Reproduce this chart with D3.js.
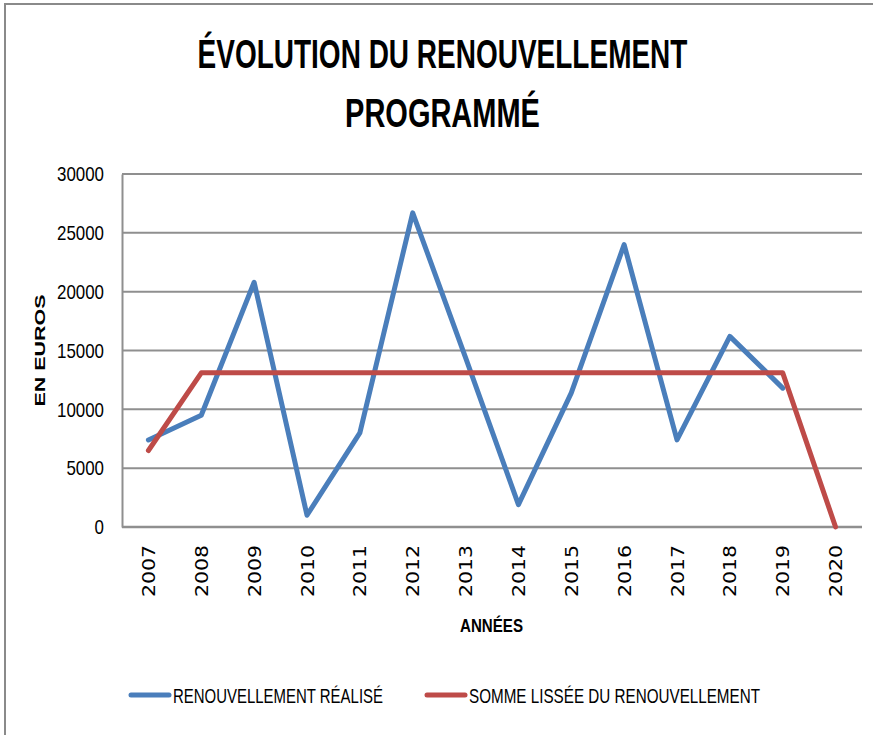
<!DOCTYPE html>
<html lang="fr">
<head>
<meta charset="utf-8">
<script src="https://cdn.jsdelivr.net/npm/d3@7"></script>
<style>
  html, body { margin: 0; padding: 0; background: #fff; }
  svg { display: block; }
</style>
</head>
<body>
<svg id="chart" width="873" height="735"></svg>
<script>
// Années et séries
const years = ["2007","2008","2009","2010","2011","2012","2013","2014","2015","2016","2017","2018","2019","2020"];
const realise = [7400, 9500, 20800, 1000, 8000, 26700, 14400, 1900, 11400, 24000, 7400, 16200, 11800];
const lisse   = [6500, 13100, 13100, 13100, 13100, 13100, 13100, 13100, 13100, 13100, 13100, 13100, 13100, 0];
const yTicks  = [0, 5000, 10000, 15000, 20000, 25000, 30000];

const titleLines  = ["ÉVOLUTION DU RENOUVELLEMENT", "PROGRAMMÉ"];
const xTitle = "ANNÉES";
const yTitle = "EN EUROS";
const seriesNames = ["RENOUVELLEMENT RÉALISÉ", "SOMME LISSÉE DU RENOUVELLEMENT"];

const BLUE = "#4a7ebb", RED = "#be4b48", GRID = "#8f8f8f";
const narrow = "'Liberation Sans Narrow', 'Liberation Sans', Arial, sans-serif";

const svg = d3.select("#chart");
const plot = { left: 122, right: 862, top: 174, bottom: 527 };

const x = d3.scalePoint().domain(years).range([plot.left, plot.right]).padding(0.5);
const y = d3.scaleLinear().domain([0, 30000]).range([plot.bottom, plot.top]);

// squeeze a text node to a given width
function fit(sel, w) {
  sel.attr("textLength", w).attr("lengthAdjust", "spacingAndGlyphs");
}

// frame
svg.append("path")
  .attr("d", "M5,735 V4 H873")
  .attr("fill", "none").attr("stroke", "#8a8a8a").attr("stroke-width", 2);

// title: condensed horizontally with a scale transform
const tW = [490, 195], tY = [68, 127];
titleLines.forEach((t, i) => {
  const g = svg.append("g");
  const txt = g.append("text")
    .attr("x", 0).attr("y", 0)
    .attr("text-anchor", "middle")
    .attr("font-family", narrow).attr("font-weight", "bold").attr("font-size", 40)
    .attr("fill", "#000").text(t);
  const natural = txt.node().getComputedTextLength();
  g.attr("transform", `translate(442.5,${tY[i]}) scale(${tW[i] / natural},1)`);
});

// horizontal gridlines
svg.append("g").selectAll("line").data(yTicks.filter(d => d > 0)).join("line")
  .attr("x1", plot.left).attr("x2", plot.right)
  .attr("y1", d => y(d)).attr("y2", d => y(d))
  .attr("stroke", GRID).attr("stroke-width", 2);

// y axis
const yAxis = svg.append("g").attr("transform", `translate(${plot.left},0)`)
  .call(d3.axisLeft(y).tickValues(yTicks).tickSize(0).tickPadding(18).tickFormat(d3.format("d")));
yAxis.select(".domain").attr("stroke", GRID).attr("stroke-width", 2);
yAxis.selectAll("text")
  .attr("font-family", narrow).attr("font-size", 21).attr("fill", "#000")
  .each(function(d) { d3.select(this).call(fit, String(d).length * 9.4); });

// x axis
const xAxis = svg.append("g").attr("transform", `translate(0,${plot.bottom})`)
  .call(d3.axisBottom(x).tickSize(0).tickSizeOuter(0));
xAxis.select(".domain")
  .attr("d", `M${plot.left},0H${plot.right}`)
  .attr("stroke", GRID).attr("stroke-width", 2.5);
xAxis.selectAll(".tick text")
  .attr("transform", "rotate(-90)")
  .attr("text-anchor", "end")
  .attr("x", -18).attr("y", 0).attr("dy", "0.36em")
  .attr("font-family", "'DejaVu Sans', Verdana, sans-serif").attr("font-size", 17)
  .attr("fill", "#000")
  .call(fit, 52);

// axis titles
svg.append("text")
  .attr("x", 491.5).attr("y", 632).attr("text-anchor", "middle")
  .attr("font-family", narrow).attr("font-weight", "bold").attr("font-size", 19)
  .attr("fill", "#000").text(xTitle).call(fit, 63);

svg.append("text")
  .attr("transform", `translate(45,${(plot.top + plot.bottom) / 2}) rotate(-90)`)
  .attr("text-anchor", "middle")
  .attr("font-family", "'Liberation Sans', Arial, sans-serif").attr("font-weight", "bold").attr("font-size", 14)
  .attr("fill", "#000").text(yTitle).call(fit, 112);

// series lines
const line = d3.line().x(d => x(d.year)).y(d => y(d.value));
const series = [
  { color: BLUE, data: realise.map((v, i) => ({ year: years[i], value: v })) },
  { color: RED,  data: lisse.map((v, i) => ({ year: years[i], value: v })) }
];
svg.append("g").selectAll("path").data(series).join("path")
  .attr("d", s => line(s.data))
  .attr("fill", "none").attr("stroke", s => s.color)
  .attr("stroke-width", 5).attr("stroke-linejoin", "round").attr("stroke-linecap", "round");

// legend
const legend = [
  { name: seriesNames[0], color: BLUE, x0: 131, w: 210 },
  { name: seriesNames[1], color: RED,  x0: 427, w: 291 }
];
const lg = svg.append("g").selectAll("g").data(legend).join("g");
lg.append("line")
  .attr("x1", d => d.x0).attr("x2", d => d.x0 + 38)
  .attr("y1", 695).attr("y2", 695)
  .attr("stroke", d => d.color).attr("stroke-width", 5).attr("stroke-linecap", "round");
lg.append("text")
  .attr("x", d => d.x0 + 42).attr("y", 703)
  .attr("font-family", narrow).attr("font-size", 21).attr("fill", "#000")
  .text(d => d.name)
  .each(function(d) { d3.select(this).call(fit, d.w); });
</script>
</body>
</html>
